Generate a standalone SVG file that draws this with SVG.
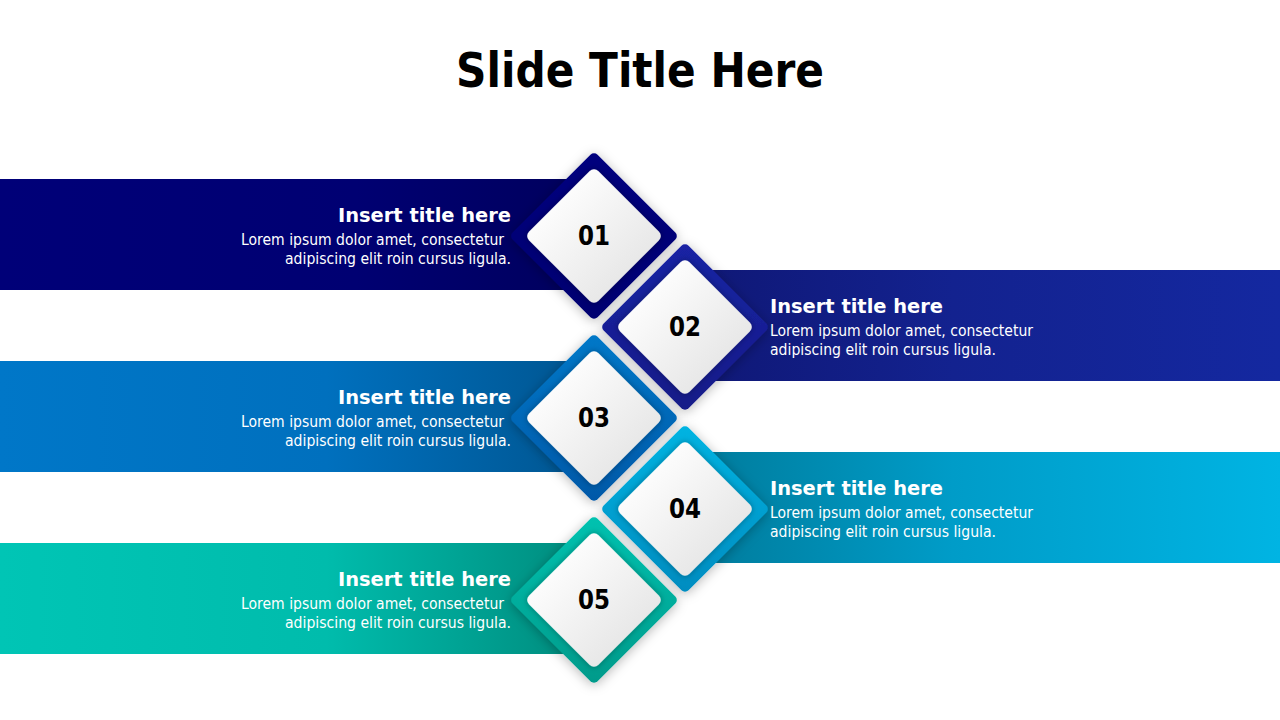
<svg xmlns="http://www.w3.org/2000/svg" width="1280" height="720" viewBox="0 0 1280 720">
<defs>
  <linearGradient id="b1" x1="0" y1="0" x2="1" y2="0"><stop offset="0" stop-color="#000078"/><stop offset="0.6" stop-color="#000072"/><stop offset="1" stop-color="#00005c"/></linearGradient>
  <linearGradient id="b2" x1="0" y1="0" x2="1" y2="0"><stop offset="0" stop-color="#0f1775"/><stop offset="0.45" stop-color="#13228f"/><stop offset="1" stop-color="#1428a0"/></linearGradient>
  <linearGradient id="b3" x1="0" y1="0" x2="1" y2="0"><stop offset="0" stop-color="#0077c8"/><stop offset="0.55" stop-color="#0070be"/><stop offset="1" stop-color="#005590"/></linearGradient>
  <linearGradient id="b4" x1="0" y1="0" x2="1" y2="0"><stop offset="0" stop-color="#007a9a"/><stop offset="0.45" stop-color="#009cc8"/><stop offset="1" stop-color="#00b4e3"/></linearGradient>
  <linearGradient id="b5" x1="0" y1="0" x2="1" y2="0"><stop offset="0" stop-color="#00c5b5"/><stop offset="0.55" stop-color="#00bcac"/><stop offset="1" stop-color="#008a7c"/></linearGradient>
  <linearGradient id="r1" x1="0" y1="0" x2="1" y2="1"><stop offset="0" stop-color="#00007e"/><stop offset="1" stop-color="#000070"/></linearGradient>
  <linearGradient id="r2" x1="0" y1="0" x2="1" y2="1"><stop offset="0" stop-color="#1a24a4"/><stop offset="1" stop-color="#121a88"/></linearGradient>
  <linearGradient id="r3" x1="0" y1="0" x2="1" y2="1"><stop offset="0" stop-color="#0078c8"/><stop offset="1" stop-color="#0058a8"/></linearGradient>
  <linearGradient id="r4" x1="0" y1="0" x2="1" y2="1"><stop offset="0" stop-color="#00b4e2"/><stop offset="1" stop-color="#008cc0"/></linearGradient>
  <linearGradient id="r5" x1="0" y1="0" x2="1" y2="1"><stop offset="0" stop-color="#00c2b0"/><stop offset="1" stop-color="#009a8a"/></linearGradient>
  <linearGradient id="w" x1="0" y1="0" x2="1" y2="0"><stop offset="0" stop-color="#fcfcfc"/><stop offset="1" stop-color="#e8e8e8"/></linearGradient>
  <filter id="sh" x="-30%" y="-30%" width="160%" height="160%"><feDropShadow dx="0" dy="2" stdDeviation="6" flood-color="#000" flood-opacity="0.28"/></filter>
  <filter id="ish" x="-20%" y="-20%" width="140%" height="140%"><feDropShadow dx="0" dy="0" stdDeviation="3" flood-color="#000" flood-opacity="0.35"/></filter>
  <rect id="outer" x="-60" y="-60" width="120" height="120" rx="5" transform="rotate(45)"/>
  <rect id="inner" x="-49" y="-49" width="98" height="98" rx="6" transform="rotate(45)" fill="url(#w)"/>
</defs>
<style>
  .ttl{font-family:"DejaVu Sans","Liberation Sans",sans-serif;font-weight:bold;font-size:20px;fill:#fff}
  .txt{font-family:"DejaVu Sans","Liberation Sans",sans-serif;font-size:16px;fill:#fff}
  .num{font-family:"DejaVu Sans","Liberation Sans",sans-serif;font-weight:bold;font-size:26px;fill:#000;text-anchor:middle}
</style>
<rect width="1280" height="720" fill="#fff"/>
<text x="640" y="87" text-anchor="middle" textLength="368" lengthAdjust="spacingAndGlyphs" style="font-family:'DejaVu Sans','Liberation Sans',sans-serif;font-weight:bold;font-size:48px;fill:#000">Slide Title Here</text>

<g id="node1">
  <rect x="0" y="179" width="594" height="111" fill="url(#b1)"/>
  <g transform="translate(594,236)">
    <use href="#outer" fill="url(#r1)" filter="url(#sh)"/>
    <use href="#inner" filter="url(#ish)"/>
    <text class="num" x="0" y="9" textLength="32" lengthAdjust="spacingAndGlyphs">01</text>
  </g>
  <text class="ttl" x="338" y="222" textLength="173" lengthAdjust="spacingAndGlyphs">Insert title here</text>
  <text class="txt" x="241" y="245" textLength="263" lengthAdjust="spacingAndGlyphs">Lorem ipsum dolor amet, consectetur</text>
  <text class="txt" x="285" y="264" textLength="226" lengthAdjust="spacingAndGlyphs">adipiscing elit roin cursus ligula.</text>
</g>

<g id="node2">
  <rect x="685" y="270" width="595" height="111" fill="url(#b2)"/>
  <g transform="translate(685,327)">
    <use href="#outer" fill="url(#r2)" filter="url(#sh)"/>
    <use href="#inner" filter="url(#ish)"/>
    <text class="num" x="0" y="9" textLength="32" lengthAdjust="spacingAndGlyphs">02</text>
  </g>
  <text class="ttl" x="770" y="313" textLength="173" lengthAdjust="spacingAndGlyphs">Insert title here</text>
  <text class="txt" x="770" y="336" textLength="263" lengthAdjust="spacingAndGlyphs">Lorem ipsum dolor amet, consectetur</text>
  <text class="txt" x="770" y="355" textLength="226" lengthAdjust="spacingAndGlyphs">adipiscing elit roin cursus ligula.</text>
</g>

<g id="node3">
  <rect x="0" y="361" width="594" height="111" fill="url(#b3)"/>
  <g transform="translate(594,418)">
    <use href="#outer" fill="url(#r3)" filter="url(#sh)"/>
    <use href="#inner" filter="url(#ish)"/>
    <text class="num" x="0" y="9" textLength="32" lengthAdjust="spacingAndGlyphs">03</text>
  </g>
  <text class="ttl" x="338" y="404" textLength="173" lengthAdjust="spacingAndGlyphs">Insert title here</text>
  <text class="txt" x="241" y="427" textLength="263" lengthAdjust="spacingAndGlyphs">Lorem ipsum dolor amet, consectetur</text>
  <text class="txt" x="285" y="446" textLength="226" lengthAdjust="spacingAndGlyphs">adipiscing elit roin cursus ligula.</text>
</g>

<g id="node4">
  <rect x="685" y="452" width="595" height="111" fill="url(#b4)"/>
  <g transform="translate(685,509)">
    <use href="#outer" fill="url(#r4)" filter="url(#sh)"/>
    <use href="#inner" filter="url(#ish)"/>
    <text class="num" x="0" y="9" textLength="32" lengthAdjust="spacingAndGlyphs">04</text>
  </g>
  <text class="ttl" x="770" y="495" textLength="173" lengthAdjust="spacingAndGlyphs">Insert title here</text>
  <text class="txt" x="770" y="518" textLength="263" lengthAdjust="spacingAndGlyphs">Lorem ipsum dolor amet, consectetur</text>
  <text class="txt" x="770" y="537" textLength="226" lengthAdjust="spacingAndGlyphs">adipiscing elit roin cursus ligula.</text>
</g>

<g id="node5">
  <rect x="0" y="543" width="594" height="111" fill="url(#b5)"/>
  <g transform="translate(594,600)">
    <use href="#outer" fill="url(#r5)" filter="url(#sh)"/>
    <use href="#inner" filter="url(#ish)"/>
    <text class="num" x="0" y="9" textLength="32" lengthAdjust="spacingAndGlyphs">05</text>
  </g>
  <text class="ttl" x="338" y="586" textLength="173" lengthAdjust="spacingAndGlyphs">Insert title here</text>
  <text class="txt" x="241" y="609" textLength="263" lengthAdjust="spacingAndGlyphs">Lorem ipsum dolor amet, consectetur</text>
  <text class="txt" x="285" y="628" textLength="226" lengthAdjust="spacingAndGlyphs">adipiscing elit roin cursus ligula.</text>
</g>
<g id="connectors"/>
</svg>
